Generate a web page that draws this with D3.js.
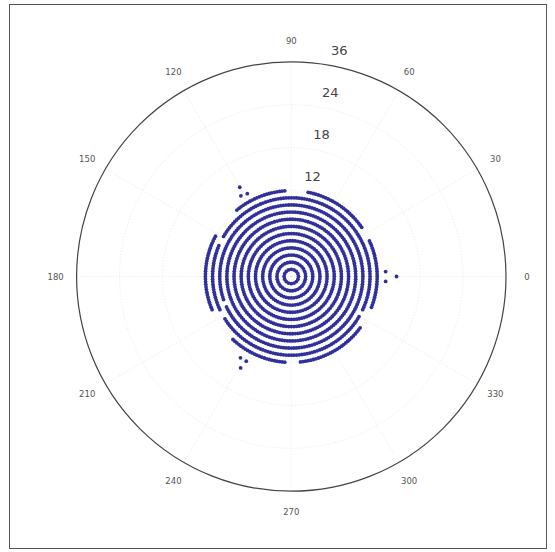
<!DOCTYPE html>
<html><head><meta charset="utf-8">
<script src="https://cdn.jsdelivr.net/npm/d3@7"></script>
<style>html,body{margin:0;padding:0;background:#fff;}svg{display:block;}</style>
</head><body>
<script>
// ---- data ----
const ringRadii = [1, 2, 3, 4, 5, 6, 7, 8, 9, 10, 11, 12];
const ringPointCounts = [16, 34, 52, 70, 86, 104, 120, 138, 154, 172, 188, 206];
// angular gaps (degrees) in the sparser outer rings
const ringGaps = {
  10: [[200, 205]],
  11: [[150, 156], [206, 211], [330, 335]],
  12: [[80, 93], [130, 152], [204, 226], [266, 276], [324, 338], [26, 34]]
};
// isolated points [angle deg, radius]
const extraAngles = [3, -3, 0, 118, 122, 120, 238, 242, 241];
const extraRadii  = [13.2, 13.2, 14.7, 13.1, 13.3, 14.4, 13.4, 13.4, 14.6];
const gridRadii = [6, 12, 18, 24];
const radialTickValues = [12, 18, 24, 30];
const radialTickLabels = ["12", "18", "24", "36"];
const angleTicks = [0, 30, 60, 90, 120, 150, 180, 210, 240, 270, 300, 330];
const rMax = 30;

// ---- layout ----
const W = 555, H = 552;
const cx = 291.3, cy = 276.5, R = 214.7;
const svg = d3.select("body").append("svg").attr("width", W).attr("height", H);
svg.append("rect").attr("x", 9.5).attr("y", 4.5).attr("width", 537).attr("height", 544)
  .attr("fill", "#fff").attr("stroke", "#555").attr("stroke-width", 1);

const r = d3.scaleLinear().domain([0, rMax]).range([0, R]);
const rad = d => d * Math.PI / 180;
const g = svg.append("g").attr("transform", `translate(${cx},${cy})`);

// grid
g.selectAll("circle.grid").data(gridRadii).join("circle")
  .attr("r", d => r(d)).attr("fill", "none").attr("stroke", "#e8e8e8")
  .attr("stroke-width", 1).attr("stroke-dasharray", "1,2");
g.selectAll("line.spoke").data(angleTicks).join("line")
  .attr("x1", 0).attr("y1", 0)
  .attr("x2", d => r(rMax) * Math.cos(rad(d)))
  .attr("y2", d => -r(rMax) * Math.sin(rad(d)))
  .attr("stroke", "#e8e8e8").attr("stroke-width", 1).attr("stroke-dasharray", "1,2");
g.append("circle").attr("r", r(rMax)).attr("fill", "none")
  .attr("stroke", "#444").attr("stroke-width", 1.2);

// angle labels
g.selectAll("text.ang").data(angleTicks).join("text")
  .attr("x", d => (R + 21) * Math.cos(rad(d)))
  .attr("y", d => -(R + 21) * Math.sin(rad(d)))
  .attr("text-anchor", "middle").attr("dominant-baseline", "central")
  .attr("font-family", "DejaVu Sans, sans-serif").attr("font-size", 8.5)
  .attr("fill", "#555").text(d => d);

// radial labels
g.selectAll("text.rl").data(radialTickValues).join("text")
  .attr("x", d => (r(d) + 16) * Math.cos(rad(78)))
  .attr("y", d => -(r(d) + 16) * Math.sin(rad(78)))
  .attr("text-anchor", "middle").attr("dominant-baseline", "central")
  .attr("font-family", "DejaVu Sans, sans-serif").attr("font-size", 13)
  .attr("fill", "#444").text((d, i) => radialTickLabels[i]);

// points
const inGap = (k, a) => {
  const gaps = ringGaps[k] || [];
  const aa = ((a % 360) + 360) % 360;
  return gaps.some(([s, e]) => aa >= s && aa <= e);
};
const pts = [];
ringRadii.forEach((rr, i) => {
  const n = ringPointCounts[i];
  for (let j = 0; j < n; j++) {
    const a = j * 360 / n;
    if (!inGap(rr, a)) pts.push({a, r: rr});
  }
});
extraAngles.forEach((a, i) => pts.push({a, r: extraRadii[i]}));

g.selectAll("circle.pt").data(pts).join("circle")
  .attr("cx", d => r(d.r) * Math.cos(rad(d.a)))
  .attr("cy", d => -r(d.r) * Math.sin(rad(d.a)))
  .attr("r", 1.9).attr("fill", "#30309a");
</script>
</body></html>
